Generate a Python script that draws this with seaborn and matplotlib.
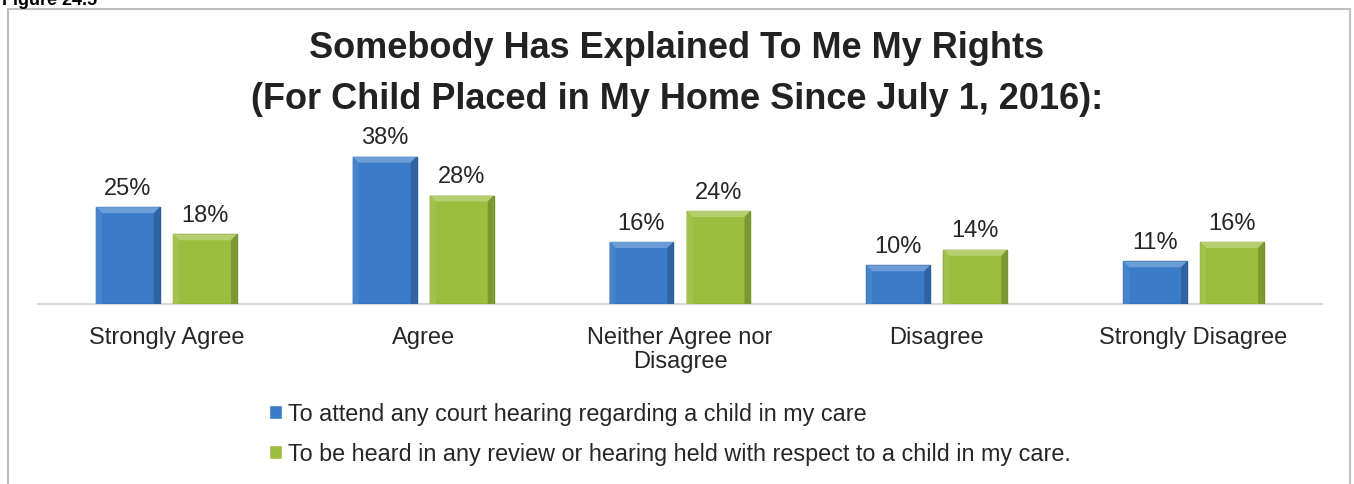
import matplotlib
matplotlib.use("Agg")
import matplotlib.pyplot as plt
from matplotlib.patches import Rectangle, Polygon
from matplotlib.transforms import IdentityTransform
import matplotlib.colors as mcolors
import seaborn as sns
import pandas as pd

categories = ["Strongly Agree", "Agree", "Neither Agree nor\nDisagree", "Disagree", "Strongly Disagree"]
series_names = [
    "To attend any court hearing regarding a child in my care",
    "To be heard in any review or hearing held with respect to a child in my care.",
]
attend_court = [25, 38, 16, 10, 11]
be_heard = [18, 28, 24, 14, 16]

rows = []
for cat, a, b in zip(categories, attend_court, be_heard):
    rows.append({"category": cat, "series": series_names[0], "value": a})
    rows.append({"category": cat, "series": series_names[1], "value": b})
df = pd.DataFrame(rows)

sns.set_theme(style="white")
plt.rcParams["font.family"] = ["Liberation Sans", "DejaVu Sans"]

DPI = 100
fig = plt.figure(figsize=(13.54, 4.85), dpi=DPI)
text_color = "#262626"

# outer frame
fig.patches.append(Rectangle((8 / 1354, -0.05), 1342 / 1354, 1.05 - 10 / 485,
                             transform=fig.transFigure, fill=False,
                             edgecolor="#bfbfbf", linewidth=1.5))
fig.text(2 / 1354, 1.0 + 8 / 485, "Figure 24.5", fontsize=13, fontweight="bold",
         color="#000000", ha="left", va="top")

ax = fig.add_axes([38 / 1354, 1 - 305 / 485, 1284 / 1354, 155 / 485])
palette = ["#3b7cc9", "#9cbe3f"]
sns.barplot(data=df, x="category", y="value", hue="series", palette=palette,
            width=0.6, gap=0.17, ax=ax, legend=True, saturation=1)

ax.set_ylim(0, 40)
ax.set_xlim(-0.5, 4.5)


def shade(color, f):
    r, g, b = mcolors.to_rgb(color)
    if f >= 0:
        return (r + (1 - r) * f, g + (1 - g) * f, b + (1 - b) * f)
    return (r * (1 + f), g * (1 + f), b * (1 + f))


# bevelled bar faces
bev = 6
for container, base, vals in zip(ax.containers, palette, [attend_court, be_heard]):
    for patch in container:
        patch.set_edgecolor(shade(base, -0.25))
        patch.set_linewidth(1.0)
        x0, y0 = patch.get_x(), patch.get_y()
        x1, y1 = x0 + patch.get_width(), y0 + patch.get_height()
        (px0, py0), (px1, py1) = ax.transData.transform([(x0, y0), (x1, y1)])
        faces = [
            ([(px0, py1), (px1, py1), (px1 - bev, py1 - bev), (px0 + bev, py1 - bev)], shade(base, 0.25)),
            ([(px0, py0), (px0, py1), (px0 + bev, py1 - bev), (px0 + bev, py0)], shade(base, 0.06)),
            ([(px1, py0), (px1, py1), (px1 - bev, py1 - bev), (px1 - bev, py0)], shade(base, -0.2)),
        ]
        for pts, col in faces:
            ax.add_patch(Polygon(pts, closed=True, transform=IdentityTransform(),
                                 facecolor=col, edgecolor="none", zorder=patch.get_zorder() + 0.1))
    ax.bar_label(container, labels=[f"{v}%" for v in vals], padding=6,
                 fontsize=17, color=text_color, clip_on=False)

ax.set_xlabel("")
ax.set_ylabel("")
ax.set_yticks([])
for s in ["top", "right", "left"]:
    ax.spines[s].set_visible(False)
ax.spines["bottom"].set_color("#d9d9d9")
ax.spines["bottom"].set_linewidth(1.5)
ax.spines["bottom"].set_zorder(0.5)
ax.tick_params(axis="x", length=0, pad=16, labelsize=17, labelcolor=text_color)
for lbl in ax.get_xticklabels():
    lbl.set_linespacing(1.12)

handles, labels = ax.get_legend_handles_labels()
ax.legend_.remove()
fig.legend(handles, labels, loc="upper left",
           bbox_to_anchor=(248 / 1354, 1 - 382 / 485), frameon=False,
           fontsize=16.8, handlelength=0.55, handleheight=0.55, handletextpad=0.25,
           labelspacing=0.72, labelcolor=text_color)

fig.text(0.5, 1 - 48 / 485, "Somebody Has Explained To Me My Rights",
         ha="center", va="center", fontsize=26, fontweight="bold", color="#222222")
fig.text(0.5, 1 - 100 / 485, "(For Child Placed in My Home Since July 1, 2016):",
         ha="center", va="center", fontsize=26, fontweight="bold", color="#222222")

fig.savefig("out.png", dpi=DPI)
